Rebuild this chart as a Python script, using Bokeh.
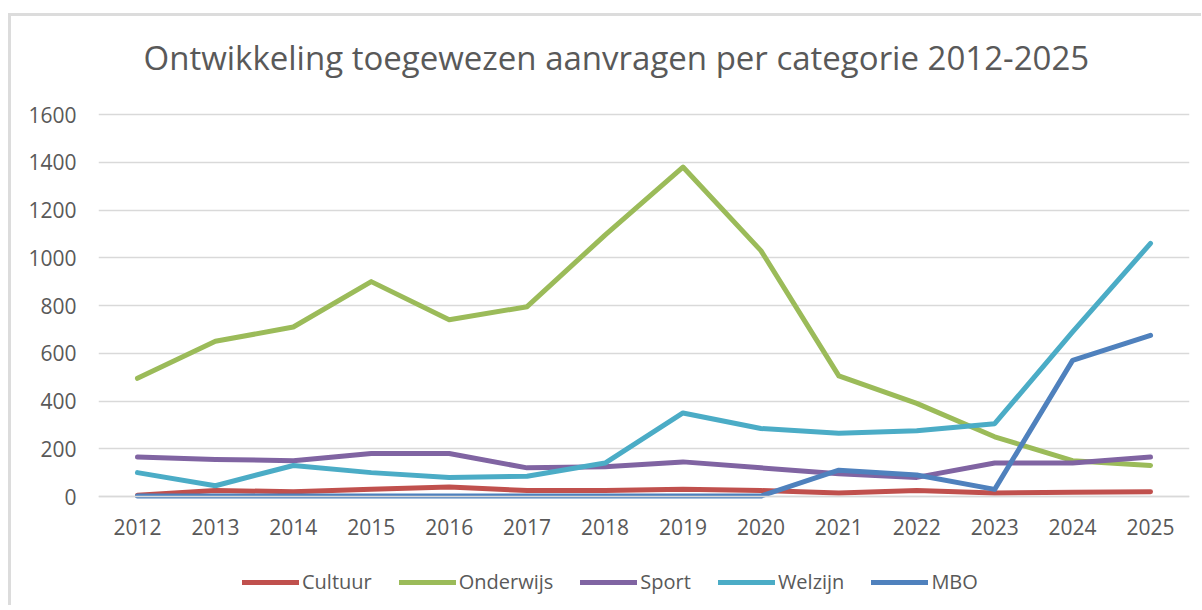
from bokeh.plotting import figure
from bokeh.models import Range1d, FactorRange, Legend, LegendItem
from bokeh.embed import file_html
from bokeh.resources import INLINE

years = [str(y) for y in range(2012, 2026)]
cultuur = [5, 25, 20, 30, 40, 25, 25, 30, 25, 15, 25, 15, 18, 20]
onderwijs = [495, 650, 710, 900, 740, 795, 1095, 1380, 1030, 505, 390, 250, 150, 130]
sport = [165, 155, 150, 180, 180, 120, 125, 145, 120, 95, 80, 140, 140, 165]
welzijn = [100, 45, 130, 100, 80, 85, 140, 350, 285, 265, 275, 305, 690, 1060]
mbo = [2, 2, 2, 2, 2, 2, 2, 2, 2, 110, 90, 30, 570, 675]
y_ticks = [0, 200, 400, 600, 800, 1000, 1200, 1400, 1600]

series_names = ["Cultuur", "Onderwijs", "Sport", "Welzijn", "MBO"]
series_vals = [cultuur, onderwijs, sport, welzijn, mbo]
colors = ["#C0504D", "#9BBB59", "#8064A2", "#4BACC6", "#4F81BD"]

FONT = "Open Sans"
TXT = "#595959"

# 0..1600 spans 382 px; extra room above (title gap) and below 0 (category labels, legend)
PX_PER_UNIT = 382 / 1600
TOP_PAD = 19
BOTTOM_PAD = 109
FRAME_H = 382 + TOP_PAD + BOTTOM_PAD
Y_MIN = -BOTTOM_PAD / PX_PER_UNIT
Y_MAX = 1600 + TOP_PAD / PX_PER_UNIT

p = figure(frame_width=1091, frame_height=FRAME_H, x_range=FactorRange(*years),
           y_range=Range1d(Y_MIN, Y_MAX),
           output_backend="svg", toolbar_location=None,
           min_border_left=87, min_border_right=12, min_border_top=79, min_border_bottom=0)
p.styles = {"margin-left": "8px", "margin-top": "13px",
            "border-left": "3px solid #DCDCDC", "border-top": "3px solid #DCDCDC"}

p.title.text = "Ontwikkeling toegewezen aanvragen per categorie 2012-2025"
p.title.text_font = FONT
p.title.text_font_size = "33px"
p.title.text_font_style = "normal"
p.title.text_color = TXT
p.title.align = "left"
p.title.offset = 45
p.title.standoff = 32

p.outline_line_color = None
p.xgrid.grid_line_color = None
p.ygrid.grid_line_color = "#D9D9D9"
p.ygrid.grid_line_width = 1.5
p.yaxis.ticker = y_ticks
p.yaxis.axis_line_color = None
p.yaxis.major_tick_line_color = None
p.yaxis.minor_tick_line_color = None
p.yaxis.major_tick_out = 0
p.yaxis.minor_tick_out = 0
p.yaxis.major_label_standoff = 22
p.xaxis.fixed_location = 0
p.xaxis.axis_line_color = "#D9D9D9"
p.xaxis.axis_line_width = 1.5
p.xaxis.major_tick_line_color = None
p.xaxis.minor_tick_line_color = None
p.xaxis.major_tick_out = 0
p.xaxis.minor_tick_out = 0
p.xaxis.major_label_standoff = 22
for ax in (p.xaxis, p.yaxis):
    ax.major_label_text_font = FONT
    ax.major_label_text_font_size = "21px"
    ax.major_label_text_color = TXT

items = []
for name, vals, col in zip(series_names, series_vals, colors):
    r = p.line(years, vals, line_color=col, line_width=5, line_cap="round", line_join="round")
    items.append(LegendItem(label=name, renderers=[r]))

legend = Legend(items=items, orientation="horizontal", location=(144, 10),
                glyph_width=57, glyph_height=20, label_standoff=3, spacing=27,
                padding=0, margin=0, border_line_color=None, background_fill_alpha=0,
                label_text_font=FONT, label_text_font_size="20px", label_text_color=TXT)
p.add_layout(legend, "center")

open("out.html", "w").write(file_html(p, INLINE))
